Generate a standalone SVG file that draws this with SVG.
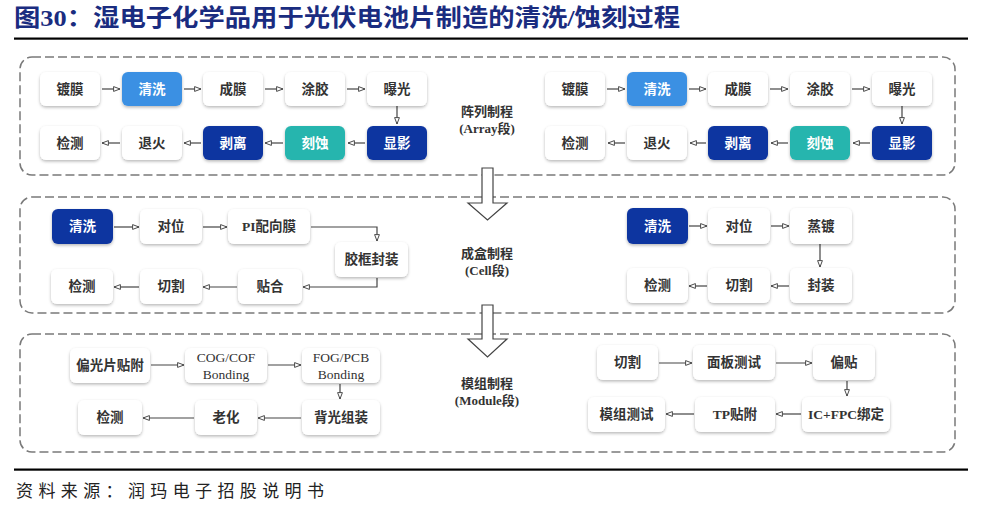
<svg xmlns="http://www.w3.org/2000/svg" width="996" height="513" viewBox="0 0 996 513">
<defs>
<filter id="sh" x="-20%" y="-20%" width="140%" height="150%">
<feDropShadow dx="0" dy="1.5" stdDeviation="1.6" flood-color="#000" flood-opacity="0.28"/>
</filter>
<marker id="ah" viewBox="0 0 10 8" refX="9" refY="4" markerWidth="8" markerHeight="7" markerUnits="userSpaceOnUse" orient="auto">
<path d="M1,1 L9,4 L1,7 z" fill="#fff" stroke="#444" stroke-width="1.2"/>
</marker>
</defs>
<style>
.title{font-family:"Liberation Serif","Noto Sans CJK SC",serif;font-size:24px;font-weight:bold;fill:#1a2c80}
.src{font-family:"Noto Sans CJK SC",sans-serif;font-size:17px;fill:#222}
.sec{fill:none;stroke:#7a7a7a;stroke-width:1.5;stroke-dasharray:9 4}
.n rect{fill:#fff;filter:url(#sh)}
.n text{font-family:"Liberation Serif","Noto Sans CJK SC",serif;font-size:13.5px;font-weight:600;fill:#333;text-anchor:middle;dominant-baseline:central}
.n.w text{fill:#fff}
.n text.reg{font-weight:normal}
.blue rect{fill:#3a90e3}
.navy rect{fill:#0e35a0}
.teal rect{fill:#28b5ae}
.lbl{font-family:"Liberation Serif","Noto Sans CJK SC",serif;font-size:13px;font-weight:bold;fill:#333;text-anchor:middle}
.c path{fill:none;stroke:#444;stroke-width:1.2;marker-end:url(#ah)}
.big{fill:#fff;stroke:#444;stroke-width:1.2}
</style>
<rect width="996" height="513" fill="#fff"/>
<text class="title" x="14" y="26" textLength="666" lengthAdjust="spacingAndGlyphs">图30：湿电子化学品用于光伏电池片制造的清洗/蚀刻过程</text>
<rect x="14" y="37.5" width="954" height="2.2" fill="#000"/>

<g id="sections">
<rect class="sec" x="20" y="57" width="935" height="118" rx="12"/>
<rect class="sec" x="20" y="197" width="935" height="116" rx="12"/>
<rect class="sec" x="20" y="334" width="935" height="118" rx="12"/>
</g>

<g id="stage-labels">
<text class="lbl" x="487" y="116">阵列制程</text>
<text class="lbl" x="487" y="133">(Array段)</text>
<text class="lbl" x="487" y="258">成盒制程</text>
<text class="lbl" x="487" y="275">(Cell段)</text>
<text class="lbl" x="487" y="388">模组制程</text>
<text class="lbl" x="487" y="405">(Module段)</text>
</g>

<g id="big-arrows">
<path class="big" d="M482,168 H493 V203 H507 L487.5,220 L468,203 H482 Z"/>
<path class="big" d="M482,305 H493 V339 H507 L487.5,357 L468,339 H482 Z"/>
</g>

<g id="connectors" class="c">
<path d="M102,89 H120"/>
<path d="M184,89 H201"/>
<path d="M265,89 H283"/>
<path d="M347,89 H365"/>
<path d="M397,106 V124"/>
<path d="M365,143 H348"/>
<path d="M283,143 H265"/>
<path d="M201,143 H184"/>
<path d="M120,143 H102"/>
<path d="M607,89 H625"/>
<path d="M689,89 H706"/>
<path d="M770,89 H788"/>
<path d="M852,89 H870"/>
<path d="M902,106 V124"/>
<path d="M870,143 H853"/>
<path d="M788,143 H771"/>
<path d="M706,143 H690"/>
<path d="M625,143 H608"/>
<path d="M114,227 H139"/>
<path d="M203,227 H227"/>
<path d="M311,227 H377 V241"/>
<path d="M377,278 V287 H303"/>
<path d="M237,287 H203"/>
<path d="M139,287 H114"/>
<path d="M689,226 H707"/>
<path d="M771,226 H789"/>
<path d="M820,244 V267"/>
<path d="M789,286 H771"/>
<path d="M707,286 H689"/>
<path d="M151,365 H184"/>
<path d="M268,365 H301"/>
<path d="M340,384 V399"/>
<path d="M301,418 H258"/>
<path d="M194,418 H143"/>
<path d="M659,363 H692"/>
<path d="M776,363 H812"/>
<path d="M847,381 V396"/>
<path d="M801,414 H776"/>
<path d="M694,414 H666"/>
</g>

<g id="a1-dumo" class="n"><rect x="40" y="72" width="60" height="34" rx="6"/><text x="70" y="89">镀膜</text></g>
<g id="a1-qingxi" class="n w blue"><rect x="122" y="72" width="60" height="34" rx="6"/><text x="152" y="89">清洗</text></g>
<g id="a1-chengmo" class="n"><rect x="203" y="72" width="60" height="34" rx="6"/><text x="233" y="89">成膜</text></g>
<g id="a1-tujiao" class="n"><rect x="285" y="72" width="60" height="34" rx="6"/><text x="315" y="89">涂胶</text></g>
<g id="a1-baoguang" class="n"><rect x="367" y="72" width="60" height="34" rx="6"/><text x="397" y="89">曝光</text></g>
<g id="a1-jiance" class="n"><rect x="40" y="126" width="60" height="34" rx="6"/><text x="70" y="143">检测</text></g>
<g id="a1-tuihuo" class="n"><rect x="122" y="126" width="60" height="34" rx="6"/><text x="152" y="143">退火</text></g>
<g id="a1-boli" class="n w navy"><rect x="203" y="126" width="60" height="34" rx="6"/><text x="233" y="143">剥离</text></g>
<g id="a1-keshi" class="n w teal"><rect x="285" y="126" width="60" height="34" rx="6"/><text x="315" y="143">刻蚀</text></g>
<g id="a1-xianying" class="n w navy"><rect x="367" y="126" width="60" height="34" rx="6"/><text x="397" y="143">显影</text></g>

<g id="a2-dumo" class="n"><rect x="545" y="72" width="60" height="34" rx="6"/><text x="575" y="89">镀膜</text></g>
<g id="a2-qingxi" class="n w blue"><rect x="627" y="72" width="60" height="34" rx="6"/><text x="657" y="89">清洗</text></g>
<g id="a2-chengmo" class="n"><rect x="708" y="72" width="60" height="34" rx="6"/><text x="738" y="89">成膜</text></g>
<g id="a2-tujiao" class="n"><rect x="790" y="72" width="60" height="34" rx="6"/><text x="820" y="89">涂胶</text></g>
<g id="a2-baoguang" class="n"><rect x="872" y="72" width="60" height="34" rx="6"/><text x="902" y="89">曝光</text></g>
<g id="a2-jiance" class="n"><rect x="545" y="126" width="60" height="34" rx="6"/><text x="575" y="143">检测</text></g>
<g id="a2-tuihuo" class="n"><rect x="627" y="126" width="60" height="34" rx="6"/><text x="657" y="143">退火</text></g>
<g id="a2-boli" class="n w navy"><rect x="708" y="126" width="60" height="34" rx="6"/><text x="738" y="143">剥离</text></g>
<g id="a2-keshi" class="n w teal"><rect x="790" y="126" width="60" height="34" rx="6"/><text x="820" y="143">刻蚀</text></g>
<g id="a2-xianying" class="n w navy"><rect x="872" y="126" width="60" height="34" rx="6"/><text x="902" y="143">显影</text></g>

<g id="c1-qingxi" class="n w navy"><rect x="52" y="209" width="61" height="35" rx="6"/><text x="82.5" y="226.5">清洗</text></g>
<g id="c1-duiwei" class="n"><rect x="140" y="209" width="62" height="35" rx="6"/><text x="171" y="226.5">对位</text></g>
<g id="c1-pi" class="n"><rect x="228" y="209" width="82" height="35" rx="6"/><text x="269" y="226.5">PI配向膜</text></g>
<g id="c1-jiaokuang" class="n"><rect x="335" y="242" width="73" height="35" rx="6"/><text x="371.5" y="259.5">胶框封装</text></g>
<g id="c1-jiance" class="n"><rect x="51" y="269" width="62" height="35" rx="6"/><text x="82" y="286.5">检测</text></g>
<g id="c1-qiege" class="n"><rect x="140" y="269" width="62" height="35" rx="6"/><text x="171" y="286.5">切割</text></g>
<g id="c1-tiehe" class="n"><rect x="238" y="269" width="64" height="35" rx="6"/><text x="270" y="286.5">贴合</text></g>

<g id="c2-qingxi" class="n w navy"><rect x="627" y="208" width="61" height="36" rx="6"/><text x="657.5" y="226">清洗</text></g>
<g id="c2-duiwei" class="n"><rect x="708" y="208" width="62" height="36" rx="6"/><text x="739" y="226">对位</text></g>
<g id="c2-zhengdu" class="n"><rect x="790" y="208" width="62" height="36" rx="6"/><text x="821" y="226">蒸镀</text></g>
<g id="c2-jiance" class="n"><rect x="627" y="268" width="61" height="35" rx="6"/><text x="657.5" y="285.5">检测</text></g>
<g id="c2-qiege" class="n"><rect x="708" y="268" width="62" height="35" rx="6"/><text x="739" y="285.5">切割</text></g>
<g id="c2-fengzhuang" class="n"><rect x="790" y="268" width="62" height="35" rx="6"/><text x="821" y="285.5">封装</text></g>

<g id="m1-pianguang" class="n"><rect x="70" y="348" width="80" height="35" rx="6"/><text x="110" y="365.5">偏光片贴附</text></g>
<g id="m1-cog" class="n"><rect x="185" y="348" width="82" height="35" rx="6"/><text class="reg" x="226" y="357.5">COG/COF</text><text class="reg" x="226" y="374.5">Bonding</text></g>
<g id="m1-fog" class="n"><rect x="302" y="348" width="78" height="35" rx="6"/><text class="reg" x="341" y="357.5">FOG/PCB</text><text class="reg" x="341" y="374.5">Bonding</text></g>
<g id="m1-jiance" class="n"><rect x="78" y="400" width="64" height="35" rx="6"/><text x="110" y="417.5">检测</text></g>
<g id="m1-laohua" class="n"><rect x="195" y="400" width="62" height="35" rx="6"/><text x="226" y="417.5">老化</text></g>
<g id="m1-beiguang" class="n"><rect x="302" y="400" width="78" height="35" rx="6"/><text x="341" y="417.5">背光组装</text></g>

<g id="m2-qiege" class="n"><rect x="597" y="345" width="61" height="35" rx="6"/><text x="627.5" y="362.5">切割</text></g>
<g id="m2-mianban" class="n"><rect x="693" y="345" width="82" height="35" rx="6"/><text x="734" y="362.5">面板测试</text></g>
<g id="m2-piantie" class="n"><rect x="813" y="345" width="62" height="35" rx="6"/><text x="844" y="362.5">偏贴</text></g>
<g id="m2-mozu" class="n"><rect x="588" y="397" width="77" height="35" rx="6"/><text x="626.5" y="414.5">模组测试</text></g>
<g id="m2-tp" class="n"><rect x="695" y="397" width="80" height="35" rx="6"/><text x="735" y="414.5">TP贴附</text></g>
<g id="m2-icfpc" class="n"><rect x="802" y="397" width="88" height="35" rx="6"/><text x="846" y="414.5">IC+FPC绑定</text></g>

<rect x="14" y="468.5" width="954" height="2.2" fill="#000"/>
<text class="src" x="16" y="497" textLength="308" lengthAdjust="spacing">资料来源：润玛电子招股说明书</text>
</svg>
